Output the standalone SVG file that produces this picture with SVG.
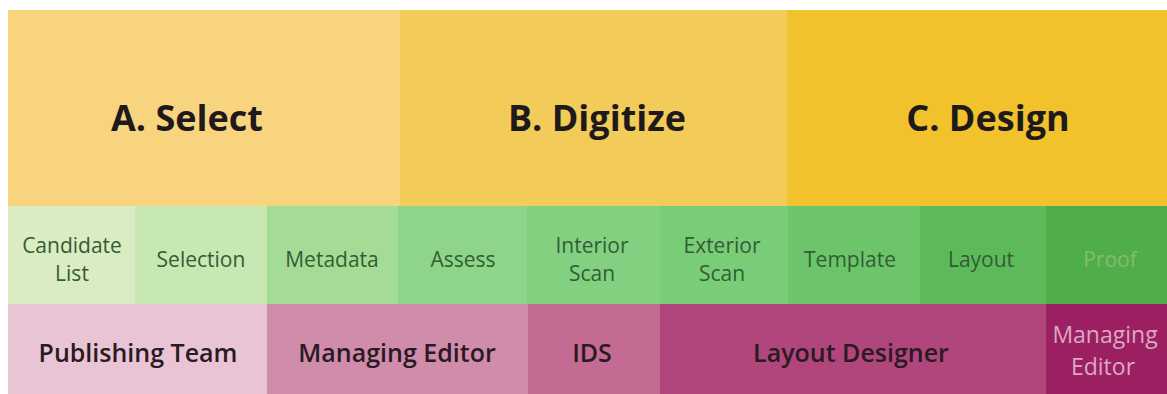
<svg xmlns="http://www.w3.org/2000/svg" width="1167" height="394" viewBox="0 0 1167 394">
<style>
.title{font-family:"Open Sans","Liberation Sans",sans-serif;font-weight:700;font-size:36px;fill:#1e1a1c;text-anchor:middle}
.task{font-family:"Open Sans","Liberation Sans",sans-serif;font-weight:400;font-size:21px;fill:#335c35;text-anchor:middle}
.role{font-family:"Open Sans","Liberation Sans",sans-serif;font-weight:600;font-size:25px;fill:#2a1a22;text-anchor:middle}
.role2{font-family:"Open Sans","Liberation Sans",sans-serif;font-weight:400;font-size:23px;fill:#d9a9c4;text-anchor:middle}
</style>
<rect x="0" y="0" width="1167" height="394" fill="#ffffff"/>
<g id="phase-a-select"><rect x="8" y="10" width="392" height="196" fill="#f8d47f"/><text class="title" x="187" y="131">A. Select</text></g>
<g id="phase-b-digitize"><rect x="400" y="10" width="387" height="196" fill="#f3cb58"/><text class="title" x="597" y="131">B. Digitize</text></g>
<g id="phase-c-design"><rect x="787" y="10" width="380" height="196" fill="#f2c22c"/><text class="title" x="988" y="131">C. Design</text></g>

<g id="task-candidate-list"><rect x="8" y="206" width="127" height="98" fill="#d9ecc2"/><text class="task" x="72" y="253">Candidate</text><text class="task" x="72" y="281">List</text></g>
<g id="task-selection"><rect x="135" y="206" width="132" height="98" fill="#c8e8b3"/><text class="task" x="201" y="267">Selection</text></g>
<g id="task-metadata"><rect x="267" y="206" width="131" height="98" fill="#a5dc95"/><text class="task" x="332" y="267">Metadata</text></g>
<g id="task-assess"><rect x="398" y="206" width="129" height="98" fill="#8ed58a"/><text class="task" x="463" y="267">Assess</text></g>
<g id="task-interior-scan"><rect x="527" y="206" width="133" height="98" fill="#82d080"/><text class="task" x="592" y="253">Interior</text><text class="task" x="592" y="281">Scan</text></g>
<g id="task-exterior-scan"><rect x="660" y="206" width="128" height="98" fill="#79cc78"/><text class="task" x="722" y="253">Exterior</text><text class="task" x="722" y="281">Scan</text></g>
<g id="task-template"><rect x="788" y="206" width="132" height="98" fill="#6cc46b"/><text class="task" x="850" y="267">Template</text></g>
<g id="task-layout"><rect x="920" y="206" width="126" height="98" fill="#5dba5b"/><text class="task" x="981" y="267">Layout</text></g>
<g id="task-proof"><rect x="1046" y="206" width="121" height="98" fill="#4fae49"/><text class="task" x="1110" y="267" style="fill:#86bb70">Proof</text></g>

<g id="role-publishing-team"><rect x="8" y="304" width="259" height="90" fill="#e9c4d4"/><text class="role" x="138" y="362">Publishing Team</text></g>
<g id="role-managing-editor"><rect x="267" y="304" width="261" height="90" fill="#d08cab"/><text class="role" x="397" y="362">Managing Editor</text></g>
<g id="role-ids"><rect x="528" y="304" width="132" height="90" fill="#c46b93"/><text class="role" x="592" y="362">IDS</text></g>
<g id="role-layout-designer"><rect x="660" y="304" width="386" height="90" fill="#b0467c"/><text class="role" x="851" y="362">Layout Designer</text></g>
<g id="role-managing-editor-2"><rect x="1046" y="304" width="121" height="90" fill="#9c1f61"/><text class="role2" x="1105" y="343">Managing</text><text class="role2" x="1103" y="375">Editor</text></g>
<g id="connectors"/>
</svg>
